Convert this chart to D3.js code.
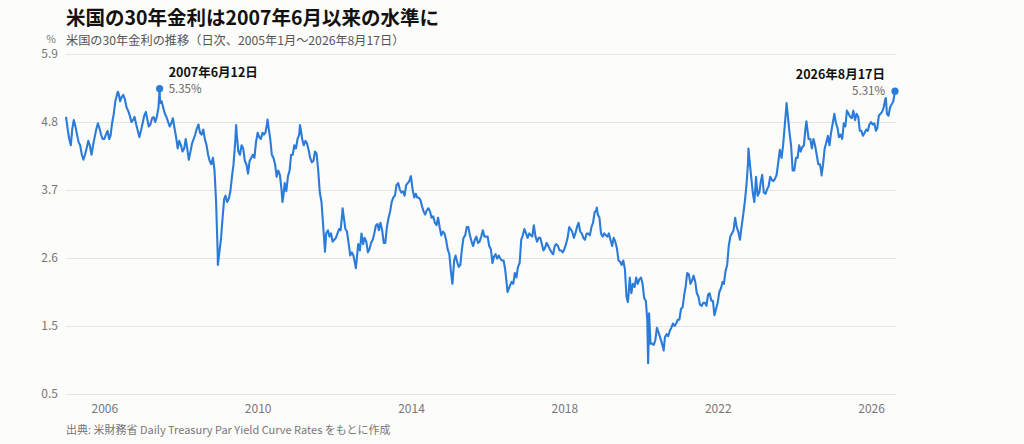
<!DOCTYPE html>
<html>
<head>
<meta charset="utf-8">
<script src="https://cdn.jsdelivr.net/npm/d3@7"></script>
<style>
  body { margin: 0; background: #fcfcfb; }
  svg text { font-family: "Noto Sans CJK JP", "Noto Sans", sans-serif; }
</style>
</head>
<body>
<svg width="1024" height="444"></svg>
<script>
'use strict';

// semi-monthly readings (1st and 16th of each month), Jan 2005 .. Aug 1 2026
var yields = [
  4.90,4.72,4.55,4.45,4.70,4.85,4.75,4.62,4.50,4.45,4.30,4.22,4.30,4.40,4.52,4.45,4.30,4.45,4.58,4.70,4.80,4.72,4.62,4.55, // 2005
  4.55,4.62,4.68,4.55,4.60,4.80,4.95,5.15,5.25,5.28,5.15,5.22,5.25,5.18,5.05,5.00,4.92,4.82,4.85,4.90,4.78,4.68,4.58,4.68, // 2006
  4.80,4.92,4.98,4.85,4.75,4.78,4.88,4.90,4.82,4.90,5.05,5.12,5.15,5.05,4.95,4.90,4.82,4.75,4.80,4.88,4.72,4.58,4.40,4.52, // 2007
  4.45,4.35,4.40,4.55,4.40,4.22,4.35,4.48,4.55,4.62,4.72,4.78,4.65,4.62,4.70,4.55,4.45,4.30,4.20,4.15,4.25,4.05,3.55,2.75, // 2008
  2.75,2.95,3.30,3.60,3.65,3.55,3.60,3.72,3.95,4.15,4.50,4.62,4.35,4.30,4.45,4.40,4.20,4.15,4.00,4.20,4.25,4.30,4.25,4.50, // 2009
  4.65,4.58,4.55,4.65,4.62,4.65,4.80,4.72,4.55,4.30,4.25,4.15,3.95,4.05,3.98,3.75,3.62,3.85,3.72,3.95,4.05,4.30,4.30,4.45, // 2010
  4.40,4.55,4.62,4.70,4.55,4.45,4.52,4.48,4.38,4.25,4.18,4.20,4.35,4.32,4.05,3.70,3.55,3.20,2.85,3.05,3.10,3.00,3.05,2.92, // 2011
  2.95,2.98,3.05,3.12,3.10,3.35,3.30,3.12,3.08,2.90,2.70,2.75,2.70,2.58,2.62,2.88,2.78,3.05,2.88,2.98,2.92,2.75,2.80,2.90, // 2012
  2.95,3.05,3.18,3.20,3.10,3.22,3.10,2.90,2.90,3.15,3.30,3.40,3.55,3.62,3.65,3.82,3.85,3.75,3.70,3.72,3.65,3.82,3.85,3.88, // 2013
  3.95,3.75,3.62,3.68,3.62,3.62,3.58,3.48,3.40,3.35,3.42,3.45,3.40,3.30,3.32,3.22,3.18,3.30,3.15,3.02,3.08,3.05,2.95,2.80, // 2014
  2.72,2.45,2.28,2.62,2.70,2.60,2.52,2.55,2.80,2.98,3.02,3.15,3.15,3.02,2.92,2.85,2.95,3.00,2.90,2.92,3.00,3.10,3.00,3.00, // 2015
  3.00,2.85,2.80,2.58,2.68,2.72,2.65,2.70,2.65,2.62,2.62,2.48,2.25,2.15,2.22,2.28,2.25,2.42,2.35,2.52,2.58,2.95,3.02,3.12, // 2016
  3.05,2.98,3.05,3.02,3.00,3.18,3.00,2.92,2.98,2.98,2.88,2.78,2.82,2.90,2.85,2.80,2.75,2.72,2.85,2.88,2.85,2.78,2.78,2.75, // 2017
  2.80,2.88,2.98,3.15,3.12,3.08,2.98,3.05,3.15,3.22,3.08,3.05,2.98,2.95,3.05,3.05,3.02,3.15,3.22,3.38,3.42,3.35,3.30,3.05, // 2018
  3.00,3.05,3.02,3.00,3.05,2.95,2.85,2.98,2.92,2.82,2.62,2.60,2.55,2.62,2.48,2.05,2.00,2.35,2.10,2.25,2.20,2.35,2.25,2.32, // 2019
  2.35,2.25,2.02,1.98,1.68,1.45,1.30,1.30,1.28,1.35,1.55,1.48,1.40,1.32,1.22,1.40,1.45,1.42,1.50,1.55,1.62,1.58,1.62,1.68, // 2020
  1.68,1.85,1.88,2.08,2.20,2.42,2.40,2.25,2.30,2.38,2.28,2.10,2.05,1.92,1.90,1.95,1.95,1.90,2.08,2.10,1.98,1.98,1.75,1.85, // 2021
  1.95,2.12,2.18,2.28,2.25,2.45,2.55,2.85,3.00,3.05,3.10,3.30,3.15,3.08,2.95,3.15,3.35,3.55,3.80,4.15,4.20,3.95,3.70,3.55, // 2022
  3.95,3.65,3.70,3.88,3.98,3.70,3.68,3.75,3.80,3.95,3.90,3.88,3.92,3.98,4.18,4.38,4.25,4.45,4.75,5.05,4.90,4.65,4.45,4.05, // 2023
  4.05,4.25,4.25,4.45,4.35,4.42,4.45,4.72,4.75,4.55,4.55,4.40,4.55,4.45,4.30,4.15,4.15,4.00,4.15,4.40,4.50,4.60,4.45,4.65, // 2024
  4.80,4.95,4.80,4.72,4.58,4.62,4.55,4.80,4.75,5.00,4.95,4.90,4.88,5.00,4.85,4.95,4.90,4.68,4.68,4.60,4.65,4.70,4.68,4.78, // 2025
  4.82,4.78,4.80,4.68,4.72,4.92,4.95,4.98,5.05,5.18,4.95,4.92,5.05,5.10,5.15                                             // 2026
];

// daily extremes
var spikes = [
  ['2006-05-10', 5.30], ['2008-12-18', 2.55], ['2009-06-10', 4.77], ['2010-04-05', 4.86],
  ['2010-08-25', 3.55], ['2011-02-08', 4.77], ['2011-10-04', 2.76], ['2012-03-20', 3.45],
  ['2012-07-24', 2.50], ['2013-12-31', 3.96], ['2015-01-30', 2.25], ['2016-07-08', 2.12],
  ['2018-11-06', 3.46], ['2019-08-28', 1.96], ['2020-03-09', 0.99], ['2020-03-18', 1.78],
  ['2020-08-04', 1.19], ['2022-10-21', 4.40], ['2023-10-19', 5.12], ['2024-04-25', 4.83],
  ['2024-09-16', 3.97], ['2026-05-22', 5.20]
];

var highlights = [
  ['2007-06-12', 5.35, '2007年6月12日', '5.35%'],
  ['2026-08-17', 5.31, '2026年8月17日', '5.31%']
];

var yTickValues = [0.5, 1.58, 2.66, 3.74, 4.82, 5.9];
var yTickLabels = ['0.5', '1.5', '2.6', '3.7', '4.8', '5.9'];
var xTickYears = [2006, 2010, 2014, 2018, 2022, 2026];

var parse = d3.timeParse('%Y-%m-%d');
var BLUE = '#2b7bd8';

var points = yields.map(function(v, i) {
  return { date: new Date(2005, Math.floor(i / 2), i % 2 ? 16 : 1), value: v };
});
spikes.concat(highlights).forEach(function(s) {
  points.push({ date: parse(s[0]), value: s[1] });
});
points.sort(function(a, b) { return a.date - b.date; });

var svg = d3.select('svg');

var x = d3.scaleTime()
  .domain([new Date(2005, 0, 1), parse('2026-08-17')])
  .range([66, 895]);

var y = d3.scaleLinear()
  .domain([0.5, 5.9])
  .range([394, 54]);

// titles
svg.append('text')
  .attr('x', 66).attr('y', 25)
  .attr('font-size', 19.5).attr('font-weight', 700).attr('fill', '#111')
  .text('米国の30年金利は2007年6月以来の水準に');

svg.append('text')
  .attr('x', 66).attr('y', 45)
  .attr('font-size', 12.2).attr('fill', '#555')
  .text('米国の30年金利の推移（日次、2005年1月〜2026年8月17日）');

svg.append('text')
  .attr('x', 56).attr('y', 43)
  .attr('text-anchor', 'end')
  .attr('font-size', 10.5).attr('fill', '#777')
  .text('%');

// y axis + grid
var axisY = d3.axisLeft(y)
  .tickValues(yTickValues)
  .tickFormat(function(d, i) { return yTickLabels[i]; })
  .tickSize(-830)
  .tickPadding(8);

var gy = svg.append('g')
  .attr('transform', 'translate(66,0)')
  .call(axisY);
gy.select('.domain').remove();
gy.selectAll('.tick line').attr('stroke', '#e5e5e5');
gy.selectAll('.tick text')
  .attr('font-size', 12).attr('fill', '#777')
  .style('font-family', '"Noto Sans CJK JP", sans-serif');

// x axis
var axisX = d3.axisBottom(x)
  .tickValues(xTickYears.map(function(yr) { return new Date(yr, 0, 1); }))
  .tickFormat(function(d, i) { return String(xTickYears[i]); })
  .tickSize(0)
  .tickPadding(10);

var gx = svg.append('g')
  .attr('transform', 'translate(0,394)')
  .call(axisX);
gx.select('.domain').remove();
gx.selectAll('.tick text')
  .attr('font-size', 12).attr('fill', '#777')
  .style('font-family', '"Noto Sans CJK JP", sans-serif');

// line
var line = d3.line()
  .x(function(d) { return x(d.date); })
  .y(function(d) { return y(d.value); });

svg.append('path')
  .datum(points)
  .attr('fill', 'none')
  .attr('stroke', BLUE)
  .attr('stroke-width', 2.1)
  .attr('stroke-linejoin', 'round')
  .attr('d', line);

// highlighted points
highlights.forEach(function(h, i) {
  var cx = x(parse(h[0])), cy = y(h[1]);
  svg.append('circle')
    .attr('cx', cx).attr('cy', cy).attr('r', 3.6)
    .attr('fill', BLUE);
  var left = i === 0;
  var tx = left ? cx + 9 : cx - 10;
  var anchor = left ? 'start' : 'end';
  svg.append('text')
    .attr('x', tx).attr('y', cy - 12)
    .attr('text-anchor', anchor)
    .attr('font-size', 12.5).attr('font-weight', 700).attr('fill', '#111')
    .text(h[2]);
  svg.append('text')
    .attr('x', tx).attr('y', cy + 4)
    .attr('text-anchor', anchor)
    .attr('font-size', 11.5).attr('fill', '#666')
    .text(h[3]);
});

// source
svg.append('text')
  .attr('x', 66).attr('y', 434)
  .attr('font-size', 11).attr('fill', '#777')
  .text('出典: 米財務省 Daily Treasury Par Yield Curve Rates をもとに作成');
</script>
</body>
</html>
